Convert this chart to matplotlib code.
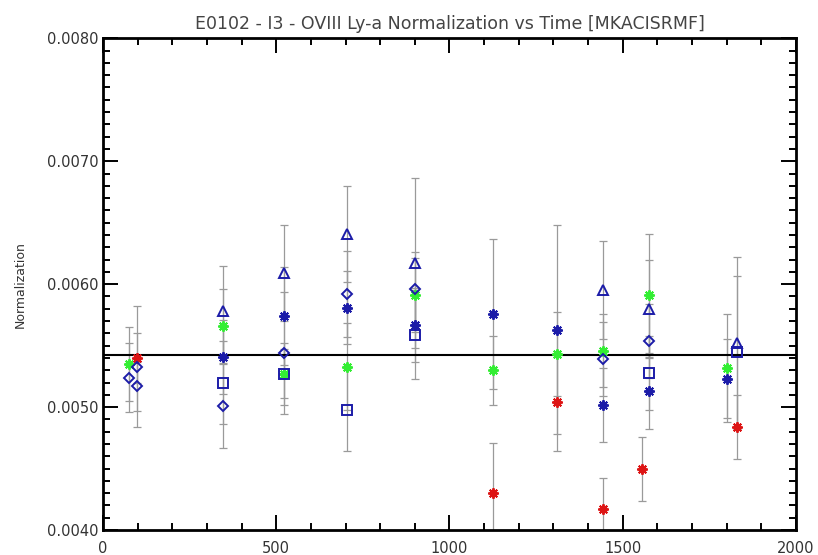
import matplotlib
matplotlib.use('Agg')
import matplotlib.pyplot as plt
from matplotlib.ticker import MultipleLocator, FormatStrFormatter

# time (x), normalization (y), 1-sigma error for each series
red_t = [97, 1125, 1311, 1443, 1555, 1831]
red_n = [0.00540, 0.00430, 0.00504, 0.00417, 0.00450, 0.00484]
red_e = [0.00020, 0.00041, 0.00040, 0.00025, 0.00026, 0.00026]

green_t = [75, 346, 522, 703, 900, 1125, 1311, 1443, 1575, 1802]
green_n = [0.00535, 0.00566, 0.00527, 0.00533, 0.00591, 0.00530, 0.00543, 0.00546, 0.00591, 0.00532]
green_e = [0.00030, 0.00030, 0.00020, 0.00035, 0.00030, 0.00028, 0.00034, 0.00030, 0.00050, 0.00044]

star_t = [346, 522, 703, 900, 1125, 1311, 1443, 1575, 1802]
star_n = [0.00541, 0.00574, 0.00581, 0.00567, 0.00576, 0.00563, 0.00502, 0.00513, 0.00523]
star_e = [0.00030, 0.00040, 0.00030, 0.00030, 0.00061, 0.00085, 0.00030, 0.00031, 0.00032]

tri_t = [346, 522, 703, 900, 1443, 1575, 1831]
tri_n = [0.00578, 0.00609, 0.00641, 0.00617, 0.00595, 0.00580, 0.00552]
tri_e = [0.00037, 0.00039, 0.00039, 0.00069, 0.00040, 0.00040, 0.00070]

dia_t = [75, 97, 97, 346, 522, 703, 900, 1443, 1575]
dia_n = [0.00524, 0.00533, 0.00517, 0.00501, 0.00544, 0.00592, 0.00596, 0.00539, 0.00554]
dia_e = [0.00028, 0.00049, 0.00020, 0.00034, 0.00050, 0.00035, 0.00030, 0.00030, 0.00030]

sq_t = [346, 522, 703, 900, 1575, 1831]
sq_n = [0.00520, 0.00527, 0.00498, 0.00559, 0.00528, 0.00545]
sq_e = [0.00034, 0.00025, 0.00034, 0.00036, 0.00030, 0.00062]

mean_norm = 0.00542

BLUE = '#1c1ca8'
GREEN = '#33ee33'
RED = '#dd1515'
ERR = '#9a9a9a'

fig = plt.figure(figsize=(8.18, 5.55), dpi=100)
ax = fig.add_axes([0.126, 0.045, 0.847, 0.886])

series = [
    (green_t, green_n, green_e, (8, 2, 0), GREEN, 7.5, 'full'),
    (red_t, red_n, red_e, (8, 2, 0), RED, 7.5, 'full'),
    (star_t, star_n, star_e, (8, 2, 0), BLUE, 7.5, 'full'),
    (tri_t, tri_n, tri_e, '^', BLUE, 7, 'none'),
    (dia_t, dia_n, dia_e, 'D', BLUE, 5, 'none'),
    (sq_t, sq_n, sq_e, 's', BLUE, 7, 'none'),
]

# error bars first, markers on top
for t, n, e, m, c, ms, fill in series:
    ax.errorbar(t, n, yerr=e, fmt='none', ecolor=ERR, elinewidth=0.9,
                capsize=3, capthick=0.9, zorder=2)

ax.axhline(mean_norm, color='black', lw=1.5, zorder=3)

for t, n, e, m, c, ms, fill in series:
    ax.plot(t, n, linestyle='none', marker=m, color=c, ms=ms, mew=1.4,
            fillstyle=fill, zorder=4)

ax.set_xlim(0, 2000)
ax.set_ylim(0.0040, 0.0080)
ax.xaxis.set_major_locator(MultipleLocator(500))
ax.xaxis.set_minor_locator(MultipleLocator(100))
ax.yaxis.set_major_locator(MultipleLocator(0.001))
ax.yaxis.set_minor_locator(MultipleLocator(0.0001))
ax.yaxis.set_major_formatter(FormatStrFormatter('%.4f'))

ax.tick_params(which='both', direction='in', top=True, right=True,
               labelsize=10.5, labelcolor='#333333', width=1.4)
ax.tick_params(which='major', length=11)
ax.tick_params(which='minor', length=5)
ax.tick_params(axis='x', pad=8)
for s in ax.spines.values():
    s.set_linewidth(2)

ax.set_ylabel('Normalization', fontsize=9, labelpad=14, color='#333333')
ax.set_title('E0102 - I3 - OVIII Ly-a Normalization vs Time [MKACISRMF]',
             fontsize=12.5, color='#444444', pad=7)

plt.savefig('out.png', dpi=100)
